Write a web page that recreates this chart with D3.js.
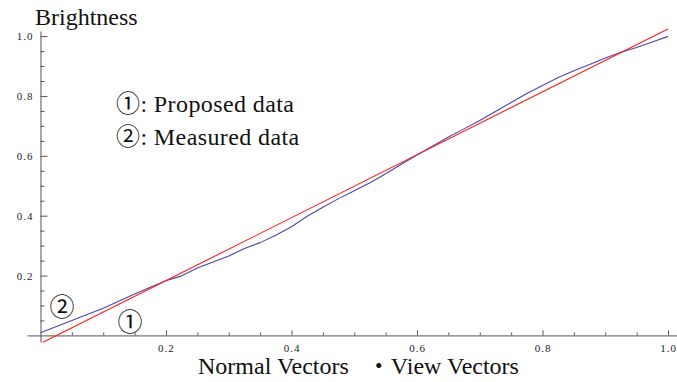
<!DOCTYPE html>
<html>
<head>
<meta charset="utf-8">
<script src="https://cdn.jsdelivr.net/npm/d3@7/dist/d3.min.js"></script>
<style>
  html, body { margin: 0; padding: 0; background: #fff; }
  svg { display: block; }
  text { font-family: "Liberation Serif", "Noto Sans CJK JP", serif; }
</style>
</head>
<body>
<svg id="chart" width="677" height="382"></svg>
<script>
// Measured brightness against the dot product of normal and view vectors
const measuredX = [0.0, 0.05, 0.1, 0.15, 0.175, 0.2, 0.225, 0.25, 0.275, 0.3, 0.325, 0.35, 0.375,
  0.4, 0.425, 0.45, 0.475, 0.5, 0.525, 0.55, 0.575, 0.6, 0.625, 0.65, 0.675, 0.7, 0.725,
  0.75, 0.775, 0.8, 0.825, 0.85, 0.875, 0.9, 0.925, 0.95, 0.975, 1.0];
const measuredY = [0.009, 0.05, 0.091, 0.138, 0.161, 0.183, 0.199, 0.225, 0.245, 0.265, 0.29, 0.310, 0.335,
  0.363, 0.398, 0.428, 0.457, 0.483, 0.510, 0.540, 0.572, 0.603, 0.633, 0.663, 0.690, 0.718, 0.748,
  0.778, 0.808, 0.835, 0.862, 0.884, 0.905, 0.927, 0.946, 0.962, 0.980, 0.999];

// Proposed model (straight line)
const proposedX = [0.004, 1.0];
const proposedY = [-0.023, 1.024];

// Tick values
const majorTicks = [0.2, 0.4, 0.6, 0.8, 1.0];
const minorTicks = [0.05, 0.1, 0.15, 0.25, 0.3, 0.35, 0.45, 0.5, 0.55, 0.65, 0.7, 0.75, 0.85, 0.9, 0.95];

// Text
const yTitle = "Brightness";
const xTitle = "Normal Vectors   \u30FBView Vectors";
const legendLines = ["\u2460: Proposed data", "\u2461: Measured data"];
const lineMarks = ["\u2460", "\u2461"];

const svg = d3.select("#chart");

const x = d3.scaleLinear().domain([-0.0215, 1.0143]).range([27, 677]);
const y = d3.scaleLinear().domain([-0.022, 1.017]).range([342, 31]);

const axisColor = "#555";

// x axis with inward ticks
const gx = svg.append("g").attr("transform", `translate(0,${y(0)})`);
gx.call(d3.axisBottom(x).tickValues(majorTicks).tickSize(-5).tickSizeOuter(0)
  .tickPadding(9).tickFormat(d3.format(".1f")));
const gxm = svg.append("g").attr("transform", `translate(0,${y(0)})`);
gxm.call(d3.axisBottom(x).tickValues(minorTicks).tickSize(-3).tickSizeOuter(0).tickFormat(""));
gxm.select(".domain").remove();

// y axis with inward ticks
const gy = svg.append("g").attr("transform", `translate(${x(0)},0)`);
gy.call(d3.axisLeft(y).tickValues(majorTicks).tickSize(-7).tickSizeOuter(0)
  .tickPadding(7).tickFormat(d3.format(".1f")));
const gym = svg.append("g").attr("transform", `translate(${x(0)},0)`);
gym.call(d3.axisLeft(y).tickValues(minorTicks).tickSize(-4).tickSizeOuter(0).tickFormat(""));
gym.select(".domain").remove();

svg.selectAll(".domain, .tick line").attr("stroke", axisColor).attr("stroke-width", 1);
svg.selectAll(".tick text")
  .attr("font-family", "Liberation Serif, serif")
  .attr("font-size", 11)
  .attr("letter-spacing", 1)
  .attr("fill", "#222");

// series
const line = d3.line().x(d => x(d[0])).y(d => y(d[1]));

svg.append("path")
  .datum(measuredX.map((v, i) => [v, measuredY[i]]))
  .attr("fill", "none")
  .attr("stroke", "#4848a6")
  .attr("stroke-width", 1.1)
  .attr("stroke-linejoin", "round")
  .attr("d", line);

svg.append("path")
  .datum(proposedX.map((v, i) => [v, proposedY[i]]))
  .attr("fill", "none")
  .attr("stroke", "#ff1a1a")
  .attr("stroke-width", 1.1)
  .attr("d", line);

// axis titles
svg.append("text")
  .attr("x", 35).attr("y", 25)
  .attr("font-size", 24)
  .attr("fill", "#111")
  .text(yTitle);

svg.append("text")
  .attr("x", 198).attr("y", 374)
  .attr("font-size", 24)
  .attr("fill", "#111")
  .style("white-space", "pre")
  .text(xTitle);

// legend
svg.selectAll(".legend")
  .data(legendLines)
  .join("text")
  .attr("class", "legend")
  .attr("x", 116)
  .attr("y", (d, i) => 112 + i * 33)
  .attr("font-size", 24)
  .attr("letter-spacing", 0.4)
  .attr("fill", "#111")
  .text(d => d);

// markers beside the curves
svg.append("text")
  .attr("x", 130).attr("y", 322)
  .attr("text-anchor", "middle").attr("dominant-baseline", "central")
  .attr("font-size", 25).attr("fill", "#111")
  .text(lineMarks[0]);

svg.append("text")
  .attr("x", 62).attr("y", 307)
  .attr("text-anchor", "middle").attr("dominant-baseline", "central")
  .attr("font-size", 25).attr("fill", "#111")
  .text(lineMarks[1]);
</script>
</body>
</html>
